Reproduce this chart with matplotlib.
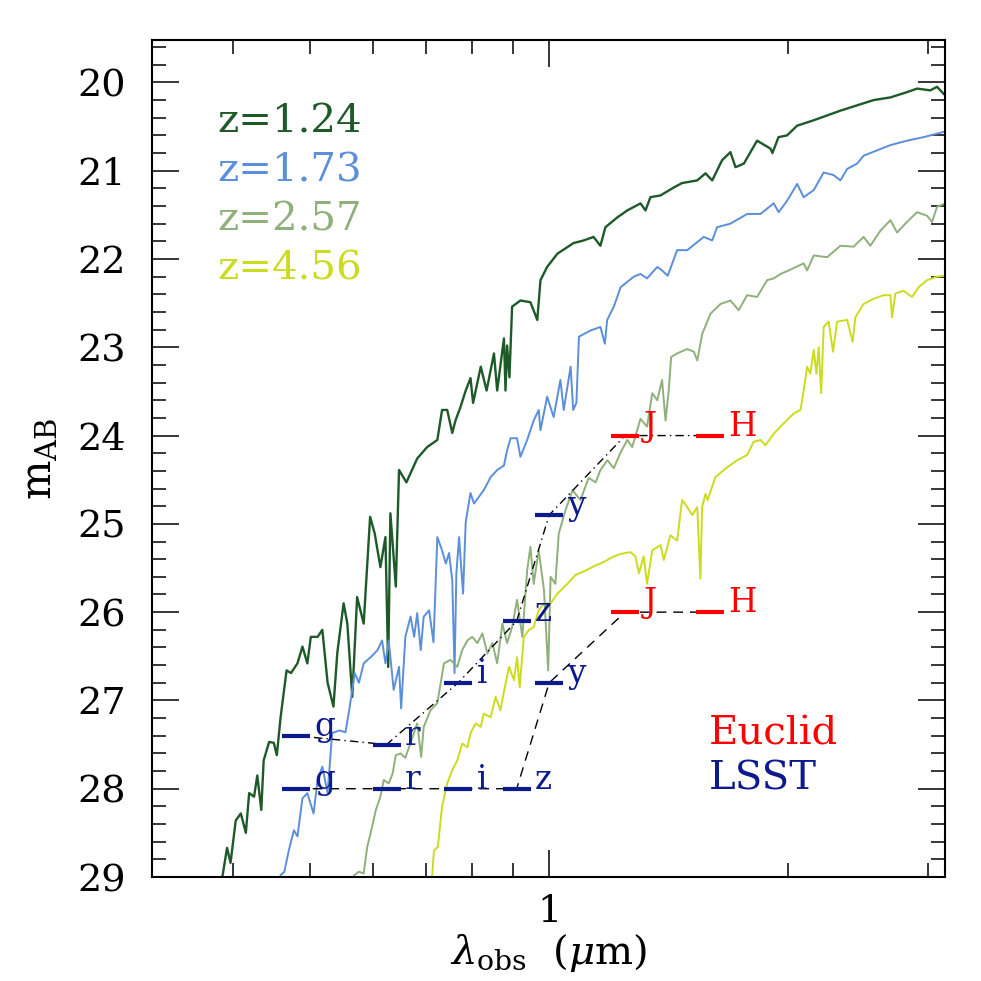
"""Galaxy spectra at several redshifts vs LSST / Euclid depth."""

import matplotlib
matplotlib.use('Agg')
import matplotlib.pyplot as plt
from matplotlib.ticker import FixedLocator, NullFormatter, MultipleLocator
import numpy as np

plt.rcParams.update({
    'font.family': ['DejaVu Serif'],
    'mathtext.fontset': 'dejavuserif',
    'axes.linewidth': 1.5,
})

# ── spectra: (lambda_obs [um], m_AB) ──
spec_z124 = [
    (0.384, 29.15), (0.388, 28.98), (0.393, 28.67), (0.397, 28.84), (0.403, 28.36),
    (0.409, 28.28), (0.415, 28.50), (0.419, 28.05), (0.425, 28.09), (0.429, 27.85),
    (0.434, 28.24), (0.437, 27.68), (0.444, 27.47), (0.450, 27.48), (0.454, 27.62),
    (0.459, 27.19), (0.467, 26.66), (0.473, 26.69), (0.482, 26.58), (0.489, 26.39),
    (0.496, 26.58), (0.501, 26.28), (0.511, 26.28), (0.518, 26.20), (0.526, 26.80),
    (0.535, 27.07), (0.541, 26.46), (0.551, 25.90), (0.557, 26.13), (0.565, 26.96),
    (0.573, 25.83), (0.584, 26.13), (0.595, 24.92), (0.603, 25.11), (0.613, 25.49),
    (0.622, 25.15), (0.627, 26.62), (0.631, 24.88), (0.641, 25.71), (0.647, 24.39),
    (0.661, 24.53), (0.682, 24.26), (0.702, 24.13), (0.723, 24.05), (0.733, 23.71),
    (0.744, 23.71), (0.755, 23.97), (0.762, 23.83), (0.773, 23.68), (0.785, 23.49),
    (0.796, 23.35), (0.802, 23.63), (0.820, 23.22), (0.834, 23.49), (0.852, 23.07),
    (0.860, 23.49), (0.877, 22.90), (0.881, 23.49), (0.885, 22.98), (0.891, 23.34),
    (0.898, 22.54), (0.920, 22.47), (0.947, 22.49), (0.966, 22.69), (0.975, 22.24),
    (0.994, 22.09), (1.024, 21.94), (1.073, 21.82), (1.105, 21.79), (1.137, 21.75),
    (1.160, 21.85), (1.177, 21.64), (1.218, 21.53), (1.254, 21.45), (1.303, 21.37),
    (1.322, 21.45), (1.341, 21.30), (1.381, 21.28), (1.435, 21.19), (1.470, 21.14),
    (1.536, 21.11), (1.573, 21.03), (1.604, 21.11), (1.651, 20.88), (1.691, 20.79),
    (1.716, 20.96), (1.758, 20.92), (1.827, 20.66), (1.899, 20.75), (1.910, 20.80),
    (1.944, 20.62), (1.993, 20.60), (2.052, 20.49), (2.151, 20.43), (2.326, 20.32),
    (2.441, 20.26), (2.562, 20.20), (2.689, 20.17), (2.822, 20.11), (2.905, 20.07),
    (3.019, 20.09), (3.078, 20.05), (3.138, 20.13),
]

spec_z173 = [
    (0.455, 29.15), (0.459, 28.98), (0.464, 28.94), (0.470, 28.70), (0.477, 28.47),
    (0.482, 28.54), (0.489, 28.11), (0.496, 28.05), (0.505, 28.28), (0.511, 27.90),
    (0.518, 27.75), (0.526, 28.05), (0.533, 27.37), (0.544, 27.34), (0.554, 27.36),
    (0.560, 27.11), (0.565, 26.88), (0.569, 26.69), (0.576, 26.80), (0.584, 26.58),
    (0.596, 26.51), (0.608, 26.43), (0.616, 26.32), (0.622, 26.58), (0.628, 26.32),
    (0.637, 26.88), (0.647, 26.62), (0.651, 27.09), (0.659, 26.28), (0.669, 26.05),
    (0.676, 26.28), (0.682, 26.01), (0.689, 26.43), (0.695, 26.05), (0.706, 25.98),
    (0.715, 26.34), (0.723, 25.15), (0.733, 25.30), (0.741, 25.45), (0.748, 25.33),
    (0.755, 25.64), (0.760, 26.69), (0.764, 25.56), (0.770, 25.15), (0.779, 25.79),
    (0.785, 24.98), (0.796, 24.65), (0.804, 24.77), (0.827, 24.62), (0.844, 24.47),
    (0.860, 24.39), (0.877, 24.34), (0.885, 24.17), (0.894, 24.03), (0.911, 24.03),
    (0.920, 24.24), (0.938, 24.05), (0.956, 23.83), (0.970, 23.71), (0.975, 23.94),
    (0.994, 23.56), (1.013, 23.79), (1.033, 23.37), (1.043, 23.71), (1.064, 23.22),
    (1.072, 23.71), (1.082, 23.63), (1.090, 22.88), (1.127, 22.81), (1.160, 22.77),
    (1.175, 22.96), (1.183, 22.69), (1.206, 22.54), (1.230, 22.32), (1.278, 22.20),
    (1.303, 22.17), (1.328, 22.22), (1.368, 22.09), (1.387, 22.13), (1.410, 22.19),
    (1.449, 21.90), (1.492, 21.90), (1.565, 21.75), (1.604, 21.79), (1.627, 21.64),
    (1.691, 21.60), (1.775, 21.49), (1.845, 21.49), (1.917, 21.37), (1.945, 21.47),
    (1.993, 21.34), (2.052, 21.15), (2.091, 21.30), (2.153, 21.22), (2.216, 21.02),
    (2.281, 21.05), (2.326, 21.11), (2.372, 20.98), (2.441, 20.92), (2.488, 20.83),
    (2.587, 20.77), (2.689, 20.71), (2.822, 20.66), (2.961, 20.62), (3.138, 20.56),
]

spec_z257 = [
    (0.563, 29.15), (0.568, 28.98), (0.576, 28.94), (0.584, 28.96), (0.590, 28.66),
    (0.596, 28.50), (0.605, 28.24), (0.613, 28.09), (0.619, 27.90), (0.628, 27.94),
    (0.635, 27.83), (0.641, 27.62), (0.650, 27.60), (0.659, 27.65), (0.669, 27.48),
    (0.682, 27.26), (0.690, 27.64), (0.695, 27.30), (0.709, 27.11), (0.723, 27.03),
    (0.737, 26.58), (0.751, 26.54), (0.766, 26.62), (0.777, 26.43), (0.789, 26.32),
    (0.800, 26.28), (0.812, 26.35), (0.824, 26.24), (0.836, 26.47), (0.848, 26.35),
    (0.860, 26.58), (0.873, 26.13), (0.885, 26.35), (0.898, 26.17), (0.911, 25.86),
    (0.925, 26.28), (0.938, 25.53), (0.947, 25.26), (0.956, 25.68), (0.970, 25.30),
    (0.985, 25.75), (0.997, 26.66), (1.004, 25.60), (1.018, 25.68), (1.028, 25.11),
    (1.048, 24.85), (1.070, 24.62), (1.095, 24.73), (1.121, 24.48), (1.144, 24.53),
    (1.160, 24.39), (1.184, 24.28), (1.206, 24.37), (1.230, 24.19), (1.254, 24.05),
    (1.272, 24.13), (1.303, 23.81), (1.328, 23.90), (1.348, 23.52), (1.368, 23.60),
    (1.387, 23.37), (1.401, 23.83), (1.414, 23.49), (1.424, 23.11), (1.449, 23.07),
    (1.492, 23.02), (1.521, 23.05), (1.536, 23.15), (1.558, 22.85), (1.596, 22.62),
    (1.643, 22.51), (1.691, 22.47), (1.732, 22.58), (1.775, 22.41), (1.827, 22.43),
    (1.881, 22.24), (1.917, 22.22), (1.955, 22.17), (2.002, 22.13), (2.091, 22.05),
    (2.112, 22.13), (2.153, 21.96), (2.238, 21.98), (2.326, 21.85), (2.417, 21.86),
    (2.488, 21.75), (2.537, 21.85), (2.612, 21.68), (2.689, 21.56), (2.741, 21.70),
    (2.822, 21.58), (2.905, 21.47), (2.990, 21.51), (3.034, 21.58), (3.078, 21.41),
    (3.153, 21.37),
]

spec_z456 = [
    (0.708, 29.15), (0.712, 29.00), (0.716, 28.70), (0.724, 28.66), (0.733, 28.20),
    (0.744, 27.94), (0.755, 27.79), (0.766, 27.68), (0.777, 27.49), (0.789, 27.53),
    (0.796, 27.37), (0.808, 27.26), (0.820, 27.30), (0.827, 27.15), (0.844, 27.19),
    (0.856, 26.96), (0.868, 27.11), (0.881, 26.81), (0.890, 26.62), (0.903, 26.77),
    (0.911, 26.51), (0.918, 26.85), (0.929, 26.28), (0.943, 26.20), (0.956, 26.17),
    (0.970, 25.98), (0.985, 25.90), (1.004, 25.90), (1.024, 25.79), (1.054, 25.68),
    (1.079, 25.58), (1.111, 25.53), (1.144, 25.47), (1.160, 25.45), (1.183, 25.41),
    (1.206, 25.37), (1.230, 25.34), (1.266, 25.32), (1.284, 25.37), (1.297, 25.56),
    (1.315, 25.37), (1.328, 25.68), (1.348, 25.30), (1.381, 25.24), (1.394, 25.41),
    (1.421, 25.13), (1.449, 25.19), (1.470, 24.73), (1.492, 24.81), (1.514, 24.90),
    (1.536, 24.81), (1.550, 25.62), (1.558, 24.81), (1.573, 24.66), (1.583, 24.73),
    (1.619, 24.47), (1.675, 24.36), (1.724, 24.28), (1.775, 24.22), (1.809, 24.07),
    (1.845, 24.05), (1.872, 24.11), (1.917, 23.98), (1.974, 23.86), (2.032, 23.75),
    (2.072, 23.71), (2.091, 23.49), (2.112, 23.22), (2.132, 23.30), (2.153, 23.03),
    (2.170, 23.30), (2.184, 23.00), (2.200, 23.52), (2.216, 22.77), (2.248, 22.71),
    (2.277, 23.05), (2.304, 22.71), (2.372, 22.69), (2.410, 22.94), (2.429, 22.66),
    (2.488, 22.51), (2.562, 22.45), (2.637, 22.41), (2.689, 22.41), (2.702, 22.66),
    (2.728, 22.39), (2.794, 22.36), (2.863, 22.43), (2.918, 22.32), (2.990, 22.24),
    (3.078, 22.20), (3.153, 22.19),
]

spectra = [spec_z124, spec_z173, spec_z257, spec_z456]
z_labels = ['z=1.24', 'z=1.73', 'z=2.57', 'z=4.56']
z_colors = ['#1d5a28', '#5b8edb', '#8fb07a', '#cbdc1e']
z_widths = [1.7, 1.4, 1.4, 1.4]

# ── survey depths ──
lsst_bands = ['g', 'r', 'i', 'z', 'y']
lsst_lam = [0.480, 0.624, 0.768, 0.910, 1.000]
lsst_deep = [27.4, 27.5, 26.8, 26.1, 24.9]     # upper sequence (dash-dot)
lsst_wide = [28.0, 28.0, 28.0, 28.0, 26.8]     # lower sequence (dashed)

euclid_bands = ['J', 'H']
euclid_lam = [1.246, 1.594]
euclid_deep = [24.0, 24.0]
euclid_wide = [26.0, 26.0]

LSST_COLOR = '#0c1a8e'
EUCLID_COLOR = '#ff0000'
HALF = 10 ** 0.0176     # half width of a band marker (log)
GAP = 10 ** 0.023       # label offset from band centre

fig = plt.figure(figsize=(9.81, 9.81), dpi=100, facecolor='white')
ax = fig.add_axes([0.155, 0.106, 0.8083, 0.8532])
ax.set_xscale('log')
ax.set_xlim(0.3162, 3.15)
ax.set_ylim(29, 19.52)

for spec, col, lw in zip(spectra, z_colors, z_widths):
    lam, mag = np.array(spec).T
    ax.plot(lam, mag, color=col, lw=lw, zorder=2)

# connecting lines through band centres
all_lam = lsst_lam + euclid_lam
ax.plot(all_lam, lsst_deep + euclid_deep, color='black', lw=1.0,
        dashes=(6, 3, 1, 3), zorder=3)
ax.plot(all_lam, lsst_wide + euclid_wide, color='black', lw=1.0,
        dashes=(7, 5), zorder=3)

# band markers + labels
for bands, lams, seqs, col in [(lsst_bands, lsst_lam, (lsst_deep, lsst_wide), LSST_COLOR),
                               (euclid_bands, euclid_lam, (euclid_deep, euclid_wide), EUCLID_COLOR)]:
    for seq in seqs:
        for b, lc, m in zip(bands, lams, seq):
            ax.plot([lc / HALF, lc * HALF], [m, m], color=col, lw=3.0,
                    solid_capstyle='butt', zorder=4)
            ax.text(lc * GAP, m, b, color=col, fontsize=23.5, ha='left',
                    va='baseline', zorder=5)

# redshift legend
for i, (lab, col) in enumerate(zip(z_labels, z_colors)):
    ax.text(0.083, 0.889 - 0.0583 * i, lab, color=col, fontsize=29,
            transform=ax.transAxes, va='baseline', ha='left')

ax.text(0.7024, 0.158, 'Euclid', color=EUCLID_COLOR, fontsize=29,
        transform=ax.transAxes, va='baseline', ha='left')
ax.text(0.7024, 0.104, 'LSST', color=LSST_COLOR, fontsize=29,
        transform=ax.transAxes, va='baseline', ha='left')

# ticks
ax.xaxis.set_major_locator(FixedLocator([1]))
ax.xaxis.set_minor_locator(FixedLocator([0.4, 0.5, 0.6, 0.7, 0.8, 0.9, 2, 3]))
ax.xaxis.set_minor_formatter(NullFormatter())
ax.set_xticklabels(['1'])
ax.yaxis.set_major_locator(MultipleLocator(1))
ax.yaxis.set_minor_locator(MultipleLocator(0.2))
ax.tick_params(which='both', direction='in', top=True, right=True, width=1.1)
ax.tick_params(which='major', length=19.5)
ax.tick_params(which='minor', length=10)
ax.tick_params(axis='y', which='major', labelsize=27.5, pad=19)
ax.tick_params(axis='x', which='major', labelsize=27.5, pad=12)

ax.set_xlabel(r'$\lambda_{\rm obs}$  ($\mu$m)', fontsize=29, labelpad=2)
ax.set_ylabel(r'$\rm m_{AB}$', fontsize=30, labelpad=12)

fig.savefig('out.png', dpi=100, facecolor='white')
plt.close(fig)
